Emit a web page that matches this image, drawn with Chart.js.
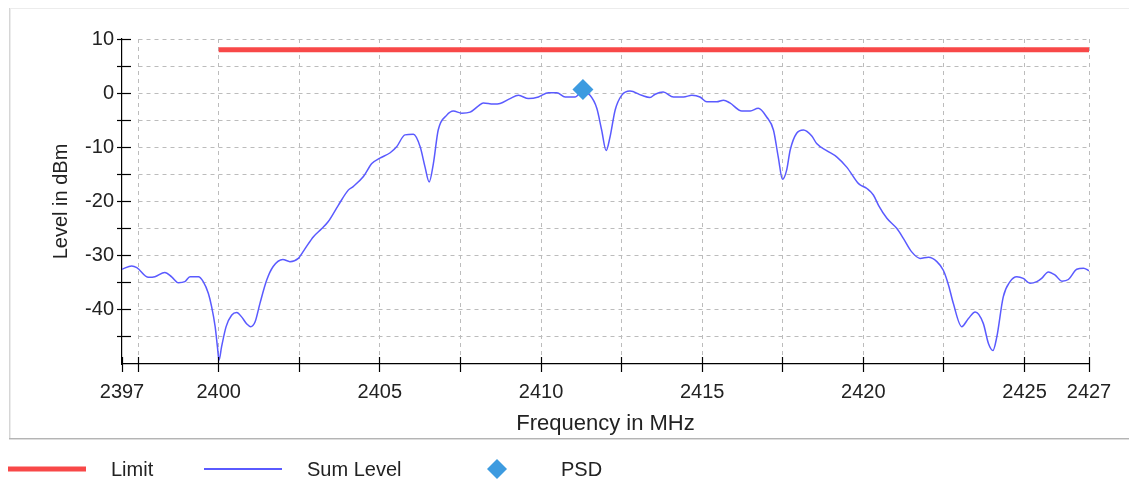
<!DOCTYPE html>
<html>
<head>
<meta charset="utf-8">
<script src="https://cdn.jsdelivr.net/npm/chart.js@4.4.1/dist/chart.umd.min.js"></script>
<style>
html,body{margin:0;padding:0;background:#fff;}
canvas{display:block;}
</style>
</head>
<body>
<canvas id="c" width="1129" height="484"></canvas>
<script>
// ---------- data ----------
const frequencies = [
 2397.00, 2397.30, 2397.46, 2397.82, 2398.02, 2398.33, 2398.54, 2398.75, 2398.95, 2399.11,
 2399.37, 2399.52, 2399.68, 2399.78, 2399.89, 2399.96, 2400.01, 2400.09, 2400.23, 2400.40,
 2400.56, 2400.71, 2400.87, 2400.99, 2401.13, 2401.28, 2401.49, 2401.69, 2401.99, 2402.21,
 2402.47, 2402.68, 2402.94, 2403.20, 2403.40, 2403.71, 2404.02, 2404.18, 2404.49, 2404.75,
 2405.00, 2405.32, 2405.52, 2405.78, 2406.04, 2406.25, 2406.40, 2406.53, 2406.66, 2406.81,
 2407.07, 2407.28, 2407.54, 2407.80, 2408.05, 2408.21, 2408.52, 2408.73, 2409.04, 2409.30,
 2409.61, 2409.92, 2410.23, 2410.49, 2410.75, 2411.06, 2411.26, 2411.52, 2411.73, 2411.88,
 2412.02, 2412.14, 2412.30, 2412.50, 2412.76, 2413.12, 2413.38, 2413.54, 2413.79, 2414.11,
 2414.42, 2414.68, 2414.93, 2415.14, 2415.45, 2415.66, 2415.86, 2416.23, 2416.49, 2416.74,
 2417.00, 2417.21, 2417.36, 2417.49, 2417.62, 2417.73, 2417.93, 2418.14, 2418.40, 2418.55,
 2418.86, 2419.18, 2419.49, 2419.85, 2420.11, 2420.31, 2420.47, 2420.73, 2421.04, 2421.24,
 2421.50, 2421.76, 2422.02, 2422.28, 2422.48, 2422.64, 2422.79, 2423.05, 2423.26, 2423.47,
 2423.72, 2423.88, 2424.02, 2424.14, 2424.34, 2424.55, 2424.76, 2424.96, 2425.17, 2425.38,
 2425.53, 2425.74, 2425.95, 2426.16, 2426.36, 2426.62, 2426.83, 2427.00
];
const sumLevel = [
 -32.5, -31.9, -32.2, -34.0, -33.9, -33.1, -33.9, -35.0, -34.8, -33.9,
 -33.9, -34.8, -37.0, -39.4, -43.1, -46.8, -49.3, -46.8, -43.1, -41.0,
 -40.5, -41.3, -42.6, -43.1, -42.2, -38.8, -34.5, -32.0, -30.7, -31.1,
 -30.5, -28.7, -26.5, -25.0, -23.7, -20.7, -17.9, -17.2, -15.4, -13.0,
 -12.0, -11.0, -9.9, -7.7, -7.6, -9.9, -13.6, -16.4, -13.0, -6.8,
 -4.1, -3.3, -3.7, -3.5, -2.4, -1.8, -2.0, -1.9, -1.0, -0.4,
 -1.0, -0.7, 0.1, 0.1, -0.7, -0.7, 0.2, -0.4, -2.8, -6.8,
 -10.6, -8.1, -3.1, -0.4, 0.4, -0.4, -0.8, -0.2, 0.2, -0.7,
 -0.7, -0.4, -0.7, -1.6, -1.6, -1.3, -1.8, -3.3, -3.3, -2.8,
 -4.4, -6.8, -11.8, -15.9, -14.2, -10.5, -7.4, -6.8, -7.9, -9.3,
 -10.6, -11.8, -13.7, -16.7, -17.6, -18.8, -20.7, -23.1, -25.0, -26.8,
 -29.3, -30.5, -30.3, -31.1, -32.7, -35.4, -38.8, -43.1, -41.6, -40.4,
 -42.5, -46.2, -47.5, -45.0, -37.6, -34.8, -33.9, -34.2, -35.1, -34.8,
 -34.2, -33.0, -33.6, -34.7, -34.4, -32.5, -32.3, -32.8
];
const limitFreq = [2400, 2427];
const limitLevel = [8, 8];
const psdFreq = [2411.3];
const psdLevel = [0.7];

const xLabeledTicks = [2397, 2400, 2405, 2410, 2415, 2420, 2425, 2427];
const xMinorTicks = [2397.5, 2402.5, 2407.5, 2412.5, 2417.5, 2422.5];
const yTicks = [10, 5, 0, -5, -10, -15, -20, -25, -30, -35, -40, -45, -50];
const yLabeledTicks = [10, 0, -10, -20, -30, -40];

const seriesNames = ['Limit', 'Sum Level', 'PSD'];
const xTitle = 'Frequency in MHz';
const yTitle = 'Level in dBm';

// ---------- styles ----------
const RED = '#f84848';
const BLUE = '#5a5aff';
const DIAMOND = '#3d9be0';
const TEXT = '#222222';
const GRID = '#bcbcbc';
const FONT = "'Liberation Sans', Arial, sans-serif";

const toPoints = (xs, ys) => xs.map((x, i) => ({x: x, y: ys[i]}));
const allXTicks = xLabeledTicks.concat(xMinorTicks).sort((a, b) => a - b);

const framePlugin = {
  id: 'frame',
  beforeDraw(chart) {
    const ctx = chart.ctx;
    ctx.save();
    ctx.fillStyle = '#fff';
    ctx.fillRect(0, 0, chart.width, chart.height);
    ctx.lineWidth = 1;
    ctx.strokeStyle = '#ececec';
    ctx.beginPath(); ctx.moveTo(9, 8.5); ctx.lineTo(chart.width, 8.5); ctx.stroke();
    ctx.strokeStyle = '#d6d6d6';
    ctx.beginPath(); ctx.moveTo(9.5, 8); ctx.lineTo(9.5, 439); ctx.stroke();
    ctx.strokeStyle = '#ececec';
    ctx.beginPath(); ctx.moveTo(10.5, 9); ctx.lineTo(10.5, 438); ctx.stroke();
    ctx.strokeStyle = '#b4b4b4';
    ctx.beginPath(); ctx.moveTo(9, 438.5); ctx.lineTo(chart.width, 438.5); ctx.stroke();
    ctx.strokeStyle = '#dddddd';
    ctx.beginPath(); ctx.moveTo(9, 439.5); ctx.lineTo(chart.width, 439.5); ctx.stroke();

    // dashed grid
    const xs = chart.scales.x, ys = chart.scales.y, a = chart.chartArea;
    ctx.strokeStyle = GRID;
    ctx.setLineDash([4, 4]);
    const xStart = Math.floor(xs.getPixelForValue(xMinorTicks[0])) + 0.5;
    yTicks.forEach(v => {
      if (v === yTicks[yTicks.length - 1]) return;
      const py = Math.floor(ys.getPixelForValue(v)) + 0.5;
      ctx.beginPath(); ctx.moveTo(xStart, py); ctx.lineTo(a.right, py); ctx.stroke();
    });
    allXTicks.forEach(v => {
      if (v === allXTicks[0]) return;
      const px = Math.floor(xs.getPixelForValue(v)) + 0.5;
      ctx.beginPath(); ctx.moveTo(px, a.top); ctx.lineTo(px, a.bottom - 1); ctx.stroke();
    });
    ctx.restore();
  }
};

const tickPlugin = {
  id: 'crossTicks',
  afterDatasetsDraw(chart) {
    const ctx = chart.ctx, xs = chart.scales.x, ys = chart.scales.y, a = chart.chartArea;
    ctx.save();
    ctx.strokeStyle = '#000';
    ctx.lineWidth = 1.2;
    allXTicks.forEach(v => {
      const px = Math.floor(xs.getPixelForValue(v)) + 0.5;
      ctx.beginPath(); ctx.moveTo(px, a.bottom - 7); ctx.lineTo(px, a.bottom + 8); ctx.stroke();
    });
    yTicks.forEach(v => {
      if (v === yTicks[yTicks.length - 1]) return;
      const py = Math.floor(ys.getPixelForValue(v)) + 0.5;
      ctx.beginPath(); ctx.moveTo(a.left - 5, py); ctx.lineTo(a.left + 9, py); ctx.stroke();
    });
    ctx.restore();
  }
};

const legendPlugin = {
  id: 'customLegend',
  afterDraw(chart) {
    const ctx = chart.ctx;
    const starts = [8, 204, 458];
    const swatchW = 78, textGap = 25, cy = 470;
    ctx.save();
    ctx.font = '20px ' + FONT;
    ctx.textBaseline = 'middle';
    ctx.fillStyle = TEXT;
    const ds = chart.data.datasets;
    ['Limit', 'Sum Level', 'PSD'].forEach((name, i) => {
      const d = ds.find(dd => dd.label === name);
      const x0 = starts[i];
      if (d.legendKind === 'line') {
        ctx.strokeStyle = d.borderColor;
        ctx.lineWidth = d.legendWidth;
        ctx.setLineDash([]);
        ctx.beginPath(); ctx.moveTo(x0, cy - 1); ctx.lineTo(x0 + swatchW, cy - 1); ctx.stroke();
      } else {
        const cx = x0 + swatchW / 2, r = 10;
        ctx.fillStyle = d.backgroundColor;
        ctx.beginPath();
        ctx.moveTo(cx, cy - 1 - r); ctx.lineTo(cx + r, cy - 1); ctx.lineTo(cx, cy - 1 + r); ctx.lineTo(cx - r, cy - 1);
        ctx.closePath(); ctx.fill();
      }
      ctx.fillStyle = TEXT;
      ctx.fillText(d.label, x0 + swatchW + textGap, cy);
    });
    ctx.restore();
  }
};

Chart.defaults.font.family = FONT;
Chart.defaults.color = TEXT;

new Chart(document.getElementById('c'), {
  type: 'line',
  data: {
    datasets: [
      {
        label: seriesNames[2],
        type: 'scatter',
        data: toPoints(psdFreq, psdLevel),
        pointStyle: 'rectRot',
        pointRadius: 10.5,
        backgroundColor: DIAMOND,
        borderColor: DIAMOND,
        borderWidth: 0,
        order: 0,
        legendKind: 'diamond'
      },
      {
        label: seriesNames[1],
        data: toPoints(frequencies, sumLevel),
        borderColor: BLUE,
        borderWidth: 1.5,
        pointRadius: 0,
        fill: false,
        cubicInterpolationMode: 'monotone',
        order: 1,
        legendKind: 'line',
        legendWidth: 2
      },
      {
        label: seriesNames[0],
        data: toPoints(limitFreq, limitLevel),
        borderColor: RED,
        borderWidth: 5,
        borderCapStyle: 'butt',
        pointRadius: 0,
        fill: false,
        order: 2,
        legendKind: 'line',
        legendWidth: 5
      }
    ]
  },
  options: {
    responsive: false,
    animation: false,
    devicePixelRatio: 1,
    layout: { padding: { top: 39, right: 40, bottom: 45, left: 0 } },
    plugins: { legend: { display: false }, tooltip: { enabled: false } },
    elements: { point: { hoverRadius: 10.5 } },
    scales: {
      x: {
        type: 'linear',
        min: 2397, max: 2427,
        afterBuildTicks(scale) { scale.ticks = allXTicks.map(v => ({value: v})); },
        afterFit(scale) {
          scale.height = 75;
          scale.paddingLeft = 0; scale.paddingRight = 0; scale.paddingTop = 0; scale.paddingBottom = 0;
        },
        ticks: {
          autoSkip: false, maxRotation: 0, minRotation: 0, padding: 16,
          font: { size: 20 }, color: TEXT,
          callback: (v) => xLabeledTicks.includes(v) ? String(v) : ''
        },
        grid: { display: false, drawTicks: false },
        border: { display: true, color: '#000', width: 1.2 },
        title: { display: true, text: xTitle, font: { size: 22 }, color: TEXT, padding: { top: 0, bottom: 2 } }
      },
      y: {
        type: 'linear',
        min: -50, max: 10,
        afterBuildTicks(scale) { scale.ticks = yTicks.map(v => ({value: v})); },
        afterFit(scale) {
          scale.width = 122;
          scale.paddingLeft = 0; scale.paddingRight = 0; scale.paddingTop = 0; scale.paddingBottom = 0;
        },
        ticks: {
          autoSkip: false, padding: 8,
          font: { size: 20 }, color: TEXT,
          callback: (v) => yLabeledTicks.includes(v) ? String(v) : ''
        },
        grid: { display: false, drawTicks: false },
        border: { display: true, color: '#000', width: 1.2 },
        title: { display: true, text: yTitle, font: { size: 20 }, color: TEXT, padding: { top: 49, bottom: 0 } }
      }
    }
  },
  plugins: [framePlugin, tickPlugin, legendPlugin]
});
</script>
</body>
</html>
